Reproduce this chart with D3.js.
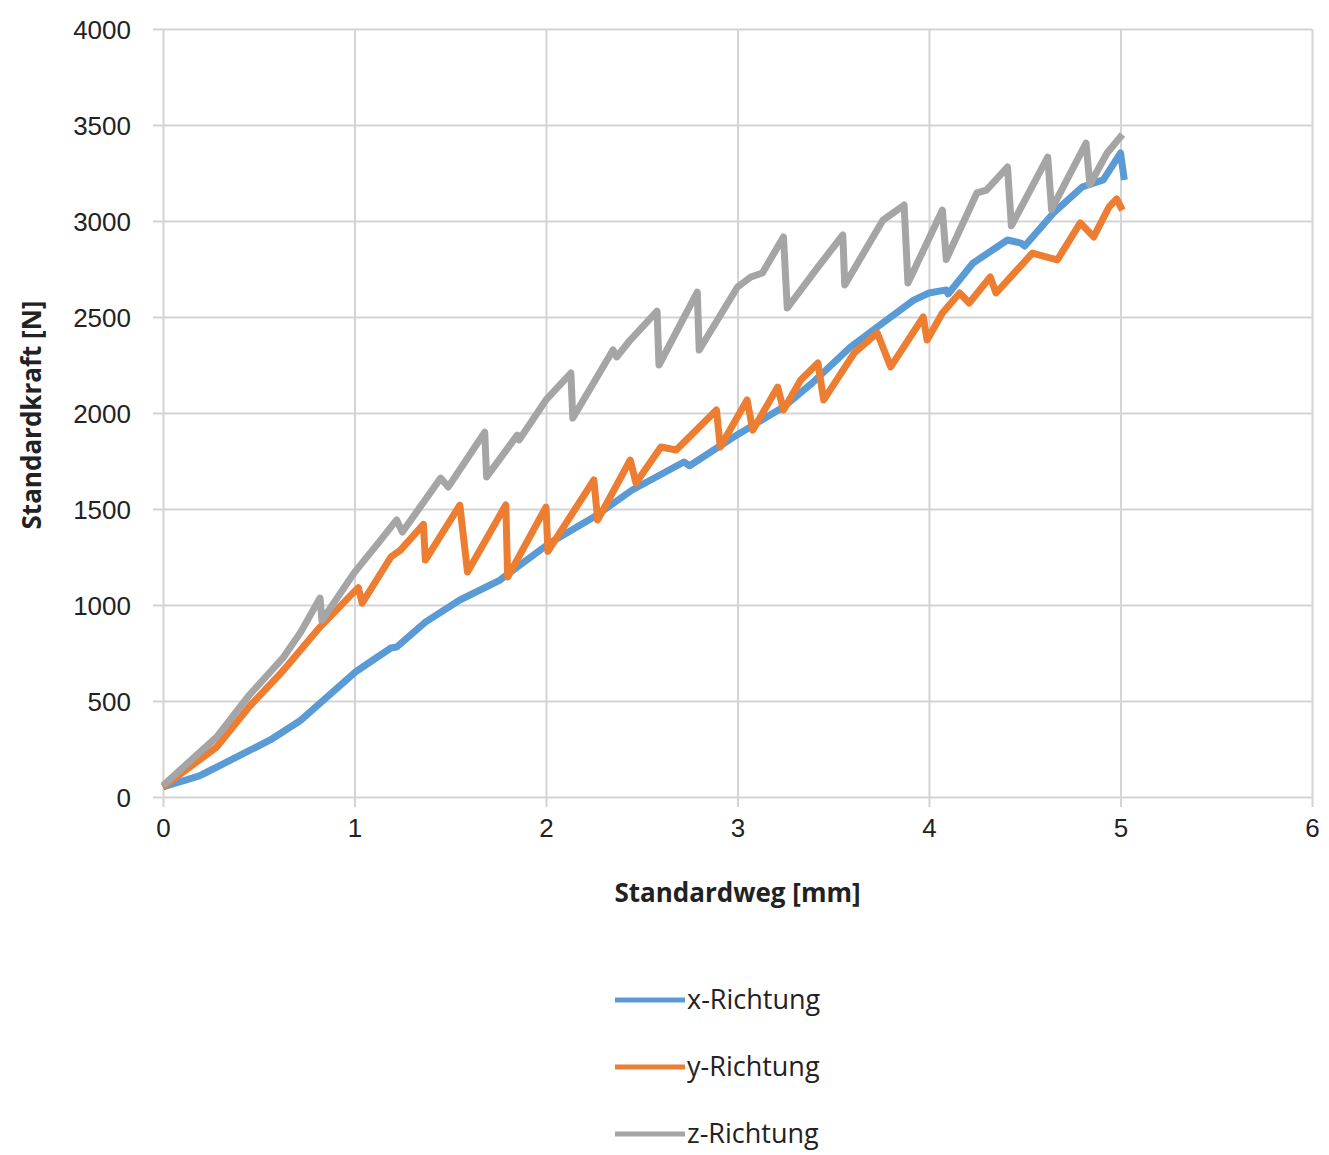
<!DOCTYPE html>
<html>
<head>
<meta charset="utf-8">
<title>Standardkraft vs Standardweg</title>
<script src="https://cdnjs.cloudflare.com/ajax/libs/d3/7.8.5/d3.min.js"></script>
<style>
body { margin: 0; background: #fff; }
svg { font-family: "Open Sans", "Liberation Sans", sans-serif; }
.grid line { stroke: #d4d4d4; stroke-width: 2; }
.tick text { fill: #222; font-size: 26px; }
.ttl { font-weight: bold; font-size: 26px; fill: #222; }
.leg { font-size: 27px; fill: #222; }
</style>
</head>
<body>
<svg id="chart"></svg>
<script>
// x-Richtung
var xDir = [[0,52],[0.19,110],[0.22,125],[0.56,297],[0.72,400],[1.01,655],[1.19,776],[1.22,781],[1.37,911],
  [1.55,1026],[1.76,1130],[1.78,1146],[2.02,1323],[2.25,1458],[2.45,1599],[2.72,1745],[2.75,1725],
  [2.98,1875],[3.24,2031],[3.39,2156],[3.59,2344],[3.73,2448],[3.92,2588],[4.0,2625],[4.09,2641],
  [4.1,2620],[4.23,2781],[4.41,2901],[4.48,2885],[4.5,2870],[4.65,3042],[4.8,3177],[4.91,3214],
  [5.0,3354],[5.02,3214]];

// y-Richtung
var yDir = [[0,52],[0.28,260],[0.45,470],[0.63,661],[0.82,885],[0.98,1050],[1.02,1090],[1.04,1010],
  [1.19,1250],[1.24,1286],[1.36,1420],[1.37,1234],[1.55,1520],[1.59,1172],[1.79,1521],[1.8,1146],
  [2.0,1510],[2.01,1280],[2.25,1651],[2.27,1443],[2.44,1755],[2.47,1635],[2.6,1823],[2.68,1807],
  [2.89,2016],[2.91,1823],[3.05,2068],[3.08,1911],[3.21,2135],[3.24,2016],[3.33,2172],[3.42,2260],
  [3.45,2068],[3.61,2313],[3.73,2417],[3.8,2240],[3.97,2500],[3.99,2380],[4.07,2521],[4.16,2625],
  [4.21,2573],[4.32,2708],[4.35,2625],[4.46,2745],[4.54,2833],[4.67,2797],[4.79,2990],[4.86,2917],
  [4.94,3073],[4.98,3115],[5.01,3057]];

// z-Richtung
var zDir = [[0,60],[0.28,312],[0.45,530],[0.63,729],[0.72,860],[0.82,1036],[0.83,920],[1.0,1170],[1.13,1330],
  [1.22,1443],[1.25,1380],[1.45,1661],[1.49,1615],[1.68,1900],[1.69,1667],[1.85,1885],[1.86,1860],
  [2.0,2068],[2.13,2208],[2.14,1974],[2.35,2328],[2.37,2292],[2.44,2380],[2.58,2530],[2.59,2250],
  [2.79,2630],[2.8,2328],[3.0,2656],[3.07,2708],[3.13,2729],[3.24,2917],[3.26,2547],[3.42,2760],
  [3.55,2927],[3.56,2667],[3.76,3005],[3.87,3083],[3.89,2677],[4.07,3057],[4.09,2800],[4.25,3146],
  [4.3,3161],[4.41,3281],[4.43,2975],[4.62,3333],[4.64,3060],[4.82,3406],[4.84,3190],[4.93,3354],
  [5.01,3450]];

var xTicks = [0, 1, 2, 3, 4, 5, 6];
var yTicks = [0, 500, 1000, 1500, 2000, 2500, 3000, 3500, 4000];

var seriesNames = ["x-Richtung", "y-Richtung", "z-Richtung"];
var seriesColors = ["#5B9BD5", "#ED7D31", "#A5A5A5"];
var seriesData = [xDir, yDir, zDir];

var W = 1329, H = 1155;
var margin = { top: 29, right: 17, bottom: 358, left: 163 };
var width = W - margin.left - margin.right;
var height = H - margin.top - margin.bottom;

var svg = d3.select("#chart").attr("width", W).attr("height", H);
var g = svg.append("g").attr("transform", "translate(" + margin.left + "," + margin.top + ")");

var x = d3.scaleLinear().domain([0, 6]).range([0, width]);
var y = d3.scaleLinear().domain([0, 4000]).range([height, 0]);

// gridlines
g.append("g")
  .attr("class", "grid")
  .call(d3.axisLeft(y).tickValues(yTicks).tickSize(-width - 10).tickFormat(""))
  .attr("transform", "translate(-10,0)")
  .call(function(s) { s.select(".domain").remove(); });

g.append("g")
  .attr("class", "grid")
  .attr("transform", "translate(0," + (height + 10) + ")")
  .call(d3.axisBottom(x).tickValues(xTicks).tickSize(height + 10).tickFormat(""))
  .call(function(s) {
    s.select(".domain").remove();
    s.selectAll(".tick line").attr("y1", -height - 10).attr("y2", 0);
  });

// tick labels
g.append("g")
  .call(d3.axisLeft(y).tickValues(yTicks).tickFormat(d3.format("d")).tickSize(0).tickPadding(32))
  .call(function(s) { s.select(".domain").remove(); })
  .selectAll("text").attr("dy", "0.35em");

g.append("g")
  .attr("transform", "translate(0," + height + ")")
  .call(d3.axisBottom(x).tickValues(xTicks).tickFormat(d3.format("d")).tickSize(0).tickPadding(22))
  .call(function(s) { s.select(".domain").remove(); });

// series
var line = d3.line()
  .x(function(d) { return x(d[0]); })
  .y(function(d) { return y(d[1]); });

seriesData.forEach(function(data, i) {
  g.append("path")
    .datum(data)
    .attr("fill", "none")
    .attr("stroke", seriesColors[i])
    .attr("stroke-width", 7)
    .attr("stroke-linejoin", "round")
    .attr("d", line);
});

// axis titles
g.append("text")
  .attr("class", "ttl")
  .attr("x", width / 2)
  .attr("y", height + 105)
  .attr("text-anchor", "middle")
  .text("Standardweg [mm]");

g.append("text")
  .attr("class", "ttl")
  .attr("transform", "rotate(-90)")
  .attr("x", -(height / 2) - 2)
  .attr("y", -122)
  .attr("text-anchor", "middle")
  .text("Standardkraft [N]");

// legend
var legend = svg.append("g").attr("transform", "translate(615,1000)");
seriesNames.forEach(function(name, i) {
  var row = legend.append("g").attr("transform", "translate(0," + (i * 67) + ")");
  row.append("line")
    .attr("x1", 0).attr("x2", 70)
    .attr("y1", 0).attr("y2", 0)
    .attr("stroke", seriesColors[i])
    .attr("stroke-width", 5);
  row.append("text")
    .attr("class", "leg")
    .attr("x", 72)
    .attr("y", 0)
    .attr("dy", "0.35em")
    .text(name);
});
</script>
</body>
</html>
